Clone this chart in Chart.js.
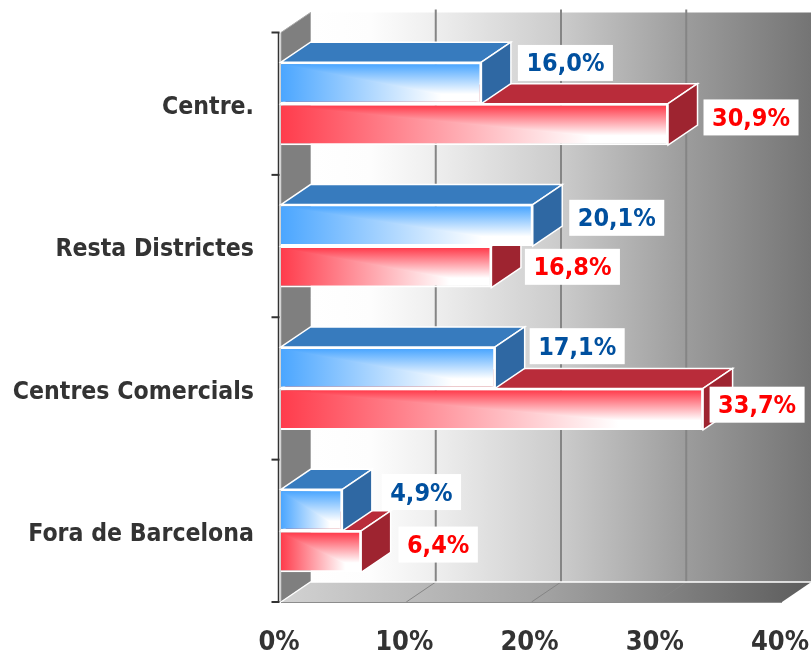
<!DOCTYPE html>
<html>
<head>
<meta charset="utf-8">
<style>
  html, body { margin: 0; padding: 0; background: #fff; }
  canvas { display: block; }
</style>
<script src="https://cdn.jsdelivr.net/npm/chart.js@4"></script>
</head>
<body>
<canvas id="chart" width="811" height="652"></canvas>
<script>
const categories = ['Centre.', 'Resta Districtes', 'Centres Comercials', 'Fora de Barcelona'];
const blueValues = [16.0, 20.1, 17.1, 4.9];
const redValues = [30.9, 16.8, 33.7, 6.4];
const xTicks = [0, 10, 20, 30, 40];

// label box centre, relative to the end of the bar
const blueLabelShift = [[84, -20], [84, -7.5], [82, -21.5], [79, -18]];
const redLabelShift = [[83, -7], [81, 0], [54, -4.5], [77, -7]];

const DEPTH_X = 29.5, DEPTH_Y = -20;
const FADE_END = 0.8;
const FONT = '"DejaVu Sans Condensed", "DejaVu Sans", sans-serif';
const BLUE = { front: '#4ba6ff', top: '#377bbe', side: '#2f68a3', text: '#00509f' };
const RED = { front: '#ff3c4c', top: '#b92c3a', side: '#9e2430', text: '#ff0000' };

function poly(ctx, pts, fill, stroke, lw) {
  ctx.beginPath();
  pts.forEach((p, i) => i ? ctx.lineTo(p[0], p[1]) : ctx.moveTo(p[0], p[1]));
  ctx.closePath();
  if (fill) { ctx.fillStyle = fill; ctx.fill(); }
  if (stroke) { ctx.strokeStyle = stroke; ctx.lineWidth = lw || 1; ctx.stroke(); }
}

function frontGradient(c, color) {
  const x = c.chart.scales.x;
  if (!x || typeof c.raw !== 'number') return color;
  const x0 = x.getPixelForValue(0), x1 = x.getPixelForValue(c.raw);
  if (!isFinite(x0) || !isFinite(x1)) return color;
  const g = c.chart.ctx.createLinearGradient(x0, 0, x1, 0);
  g.addColorStop(0, color);
  g.addColorStop(FADE_END, '#ffffff');
  g.addColorStop(1, '#ffffff');
  return g;
}

// back wall, left wall, floor, grid
function drawRoom(chart) {
  const { ctx, chartArea: a, scales: { x } } = chart;
  const top = a.top + DEPTH_Y, bottom = a.bottom + DEPTH_Y;
  const wall = ctx.createLinearGradient(a.left + DEPTH_X, 0, a.right + DEPTH_X, 0);
  wall.addColorStop(0, '#ffffff');
  wall.addColorStop(0.12, '#fdfdfd');
  wall.addColorStop(0.25, '#eeeeee');
  wall.addColorStop(0.5, '#cbcbcb');
  wall.addColorStop(0.75, '#9c9c9c');
  wall.addColorStop(1, '#747474');
  poly(ctx, [[a.left + DEPTH_X, top], [a.right + DEPTH_X, top], [a.right + DEPTH_X, bottom], [a.left + DEPTH_X, bottom]], wall);

  const floor = ctx.createLinearGradient(a.left, 0, a.right + DEPTH_X, 0);
  floor.addColorStop(0, '#d2d2d2');
  floor.addColorStop(0.5, '#a2a2a2');
  floor.addColorStop(1, '#5c5c5c');
  poly(ctx, [[a.left, a.bottom], [a.left + DEPTH_X, bottom], [a.right + DEPTH_X, bottom], [a.right, a.bottom]], floor);

  poly(ctx, [[a.left, a.top], [a.left + DEPTH_X, top], [a.left + DEPTH_X, bottom], [a.left, a.bottom]], '#7f7f7f', '#a8a8a8', 1);

  xTicks.slice(1, -1).forEach(v => {
    const px = x.getPixelForValue(v);
    ctx.strokeStyle = '#858585';
    ctx.lineWidth = 2;
    ctx.beginPath();
    ctx.moveTo(px + DEPTH_X, top - 3);
    ctx.lineTo(px + DEPTH_X, bottom);
    ctx.stroke();
    ctx.lineWidth = 1;
    ctx.beginPath();
    ctx.moveTo(px + DEPTH_X, bottom);
    ctx.lineTo(px, a.bottom);
    ctx.stroke();
  });

  ctx.strokeStyle = '#ffffff';
  ctx.lineWidth = 1.5;
  ctx.beginPath();
  ctx.moveTo(a.left, a.bottom);
  ctx.lineTo(a.left + DEPTH_X, bottom);
  ctx.lineTo(a.right + DEPTH_X, bottom);
  ctx.stroke();
  ctx.strokeStyle = '#8c8c8c';
  ctx.lineWidth = 1;
  ctx.beginPath();
  ctx.moveTo(a.left, a.bottom + 0.5);
  ctx.lineTo(a.right, a.bottom + 0.5);
  ctx.stroke();

  // category axis with ticks between the groups
  const axisX = a.left - 2.5;
  ctx.strokeStyle = '#333333';
  ctx.lineWidth = 1.5;
  ctx.beginPath();
  ctx.moveTo(axisX, a.top);
  ctx.lineTo(axisX, a.bottom);
  ctx.stroke();
  ctx.lineWidth = 2;
  const step = (a.bottom - a.top) / categories.length;
  for (let i = 0; i <= categories.length; i++) {
    ctx.beginPath();
    ctx.moveTo(axisX - 7, a.top + i * step);
    ctx.lineTo(axisX + 1, a.top + i * step);
    ctx.stroke();
  }
}

// top and right faces of a bar
function drawFaces(chart, dsIndex, colors) {
  const ctx = chart.ctx;
  chart.getDatasetMeta(dsIndex).data.forEach(bar => {
    const t = bar.y - bar.height / 2, b = bar.y + bar.height / 2;
    const l = bar.base, r = bar.x;
    poly(ctx, [[l, t], [l + DEPTH_X, t + DEPTH_Y], [r + DEPTH_X, t + DEPTH_Y], [r, t]], colors.top, '#ffffff', 1.5);
    poly(ctx, [[r, t], [r + DEPTH_X, t + DEPTH_Y], [r + DEPTH_X, b + DEPTH_Y], [r, b]], colors.side, '#ffffff', 1.5);
  });
}

// corner gradient: above the diagonal the colour fades downwards
function drawFrontShade(chart, dsIndex, color) {
  const ctx = chart.ctx;
  chart.getDatasetMeta(dsIndex).data.forEach(bar => {
    const t = bar.y - bar.height / 2 + 2, b = bar.y + bar.height / 2 - 2;
    const l = bar.base, r = bar.x - 2;
    const g = ctx.createLinearGradient(0, t, 0, b);
    g.addColorStop(0, color);
    g.addColorStop(FADE_END, '#ffffff');
    g.addColorStop(1, '#ffffff');
    poly(ctx, [[l, t], [r, t], [r, b]], g);
  });
}

function drawLabels(chart, dsIndex, values, shift, colors) {
  const ctx = chart.ctx;
  ctx.font = 'bold 25px ' + FONT;
  ctx.textAlign = 'center';
  ctx.textBaseline = 'middle';
  chart.getDatasetMeta(dsIndex).data.forEach((bar, i) => {
    const cx = bar.x + shift[i][0], cy = bar.y + shift[i][1];
    const text = values[i].toFixed(1).replace('.', ',') + '%';
    const w = ctx.measureText(text).width + 17;
    ctx.fillStyle = '#ffffff';
    ctx.fillRect(cx - w / 2, cy - 18, w, 36);
    ctx.fillStyle = colors.text;
    ctx.fillText(text, cx, cy + 2);
  });
}

const room3d = {
  id: 'room3d',
  beforeDatasetsDraw(chart) {
    drawRoom(chart);
    drawFaces(chart, 1, RED);
    drawFaces(chart, 0, BLUE);
  },
  afterDatasetsDraw(chart) {
    drawFrontShade(chart, 1, RED.front);
    drawFrontShade(chart, 0, BLUE.front);
    drawLabels(chart, 1, redValues, redLabelShift, RED);
    drawLabels(chart, 0, blueValues, blueLabelShift, BLUE);
  }
};

new Chart(document.getElementById('chart').getContext('2d'), {
  type: 'bar',
  data: {
    labels: categories,
    datasets: [
      { label: 'Blau', data: blueValues, backgroundColor: c => frontGradient(c, BLUE.front) },
      { label: 'Vermell', data: redValues, backgroundColor: c => frontGradient(c, RED.front) }
    ]
  },
  options: {
    indexAxis: 'y',
    responsive: false,
    animation: false,
    layout: { padding: { top: 32.5, right: 29, left: 0, bottom: 0 } },
    plugins: { legend: { display: false }, tooltip: { enabled: false } },
    datasets: {
      bar: {
        barPercentage: 1,
        categoryPercentage: 0.583,
        borderColor: '#ffffff',
        borderWidth: 2,
        borderSkipped: 'left'
      }
    },
    scales: {
      x: {
        min: 0,
        max: 40,
        afterFit: s => { s.height = 50; s.paddingRight = 0; s.paddingLeft = 0; },
        grid: { display: false, drawTicks: false },
        border: { display: false },
        ticks: {
          stepSize: 10,
          padding: 25,
          labelOffset: -2,
          maxRotation: 0,
          color: '#333333',
          font: { family: FONT, size: 27, weight: 'bold' },
          callback: v => v + '%'
        }
      },
      y: {
        afterFit: s => { s.width = 281; s.paddingTop = 0; s.paddingBottom = 0; },
        grid: { display: false, drawTicks: false },
        border: { display: false },
        ticks: {
          padding: 27,
          labelOffset: 4,
          color: '#333333',
          font: { family: FONT, size: 24.6, weight: 'bold' }
        }
      }
    }
  },
  plugins: [room3d]
});
</script>
</body>
</html>
